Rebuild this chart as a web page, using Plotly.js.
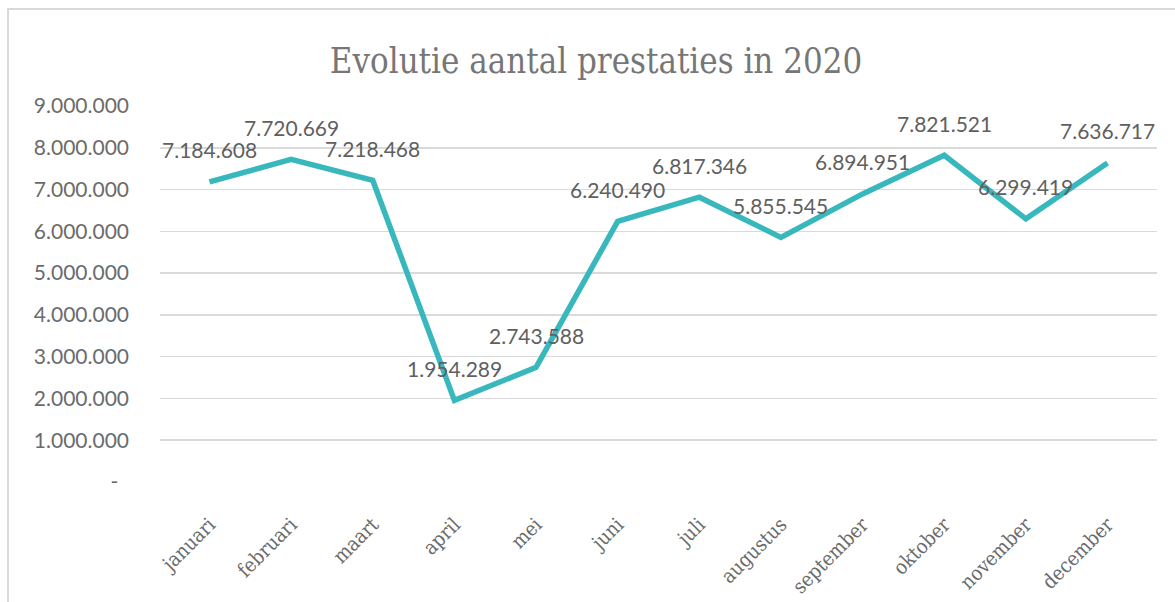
<!DOCTYPE html>
<html>
<head>
<meta charset="utf-8">
<script src="https://cdn.plot.ly/plotly-3.0.1.min.js"></script>
<style>
  html, body { margin: 0; padding: 0; background: #ffffff; }
  #wrap { position: relative; width: 1175px; height: 602px; overflow: hidden; }
  #chart { position: absolute; left: 0; top: 0; width: 1175px; height: 602px; }
  #frame { position: absolute; left: 7px; top: 8px; width: 1200px; height: 700px;
           border: 2px solid #d9d9d9; pointer-events: none; }
</style>
</head>
<body>
<div id="wrap">
  <div id="chart"></div>
  <div id="frame"></div>
</div>
<script>
const months = ["januari","februari","maart","april","mei","juni","juli","augustus","september","oktober","november","december"];
const prestaties = [7184608, 7720669, 7218468, 1954289, 2743588, 6240490, 6817346, 5855545, 6894951, 7821521, 6299419, 7636717];
const yTickVals = [0, 1000000, 2000000, 3000000, 4000000, 5000000, 6000000, 7000000, 8000000, 9000000];
const yTickText = ["-\u00a0\u00a0", "1.000.000", "2.000.000", "3.000.000", "4.000.000", "5.000.000", "6.000.000", "7.000.000", "8.000.000", "9.000.000"];
const titleText = "Evolutie aantal prestaties in 2020";

function fmt(v) {
  return String(v).replace(/\B(?=(\d{3})+(?!\d))/g, ".");
}

const numFont = "Lato, 'Open Sans', sans-serif";
const serifFont = "'DejaVu Serif Condensed', 'DejaVu Serif', serif";

const trace = {
  x: months,
  y: prestaties,
  type: "scatter",
  mode: "lines",
  line: { color: "#38b8bd", width: 5.5 },
  hoverinfo: "skip"
};

const annotations = months.map((m, i) => ({
  x: m, y: prestaties[i], xref: "x", yref: "y",
  text: fmt(prestaties[i]), showarrow: false,
  yshift: 32, xanchor: "center", yanchor: "middle",
  font: { family: numFont, size: 21, color: "#5f5f5f" }
}));

const layout = {
  width: 1175, height: 602,
  margin: { l: 160, r: 18, t: 106, b: 120 },
  paper_bgcolor: "rgba(0,0,0,0)",
  plot_bgcolor: "rgba(0,0,0,0)",
  showlegend: false,
  title: {
    text: titleText,
    x: 596 / 1175, xref: "container", xanchor: "center",
    y: 1 - 61 / 602, yref: "container", yanchor: "middle",
    font: { family: serifFont, size: 34.5, color: "#767676" }
  },
  xaxis: {
    type: "category",
    tickangle: -45,
    ticks: "",
    showgrid: false,
    showline: false,
    zeroline: false,
    ticklabelstandoff: 26,
    tickfont: { family: serifFont, size: 20, color: "#6b6b6b" }
  },
  yaxis: {
    range: [0, 9000000],
    tickvals: yTickVals,
    ticktext: yTickText,
    ticks: "",
    showline: false,
    zeroline: false,
    gridcolor: "#dadada",
    gridwidth: 1.5,
    ticklabelstandoff: 30,
    tickfont: { family: numFont, size: 21, color: "#6b6b6b" }
  },
  annotations: annotations
};

Plotly.newPlot("chart", [trace], layout, { displayModeBar: false, staticPlot: true });
</script>
</body>
</html>
